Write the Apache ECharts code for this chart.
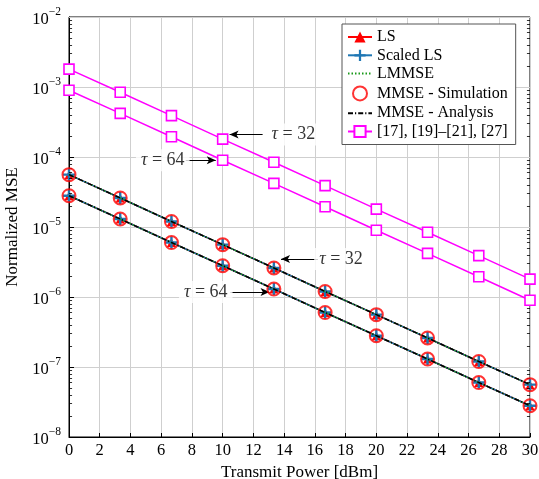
<!DOCTYPE html>
<html>
<head>
<meta charset="utf-8">
<script src="https://cdn.jsdelivr.net/npm/echarts@6/dist/echarts.min.js"></script>
<style>
  html, body { margin: 0; padding: 0; background: #fff; }
  #chart { width: 539px; height: 479px; }
</style>
</head>
<body>
<div id="chart"></div>
<script>
// Transmit power sample points [dBm]
const power = [0, 3.333, 6.667, 10, 13.333, 16.667, 20, 23.333, 26.667, 30];

// Normalized MSE, proposed estimators (all estimators coincide)
const mseTau32 = [5.6e-5, 2.6e-5, 1.2e-5, 5.6e-6, 2.6e-6, 1.2e-6, 5.6e-7, 2.6e-7, 1.2e-7, 5.6e-8];
const mseTau64 = [2.8e-5, 1.3e-5, 6.0e-6, 2.8e-6, 1.3e-6, 6.0e-7, 2.8e-7, 1.3e-7, 6.0e-8, 2.8e-8];

// Normalized MSE, reference schemes [17], [19]–[21], [27]
const refTau32 = [1.8e-3, 8.4e-4, 3.9e-4, 1.8e-4, 8.4e-5, 3.9e-5, 1.8e-5, 8.4e-6, 3.9e-6, 1.8e-6];
const refTau64 = [9.0e-4, 4.2e-4, 1.95e-4, 9.0e-5, 4.2e-5, 1.95e-5, 9.0e-6, 4.2e-6, 1.95e-6, 9.0e-7];

const xTicks = [0, 2, 4, 6, 8, 10, 12, 14, 16, 18, 20, 22, 24, 26, 28, 30];
const yDecades = [1e-8, 1e-7, 1e-6, 1e-5, 1e-4, 1e-3, 1e-2];

const legendNames = ['LS', 'Scaled LS', 'LMMSE', 'MMSE - Simulation', 'MMSE - Analysis', '[17], [19]–[21], [27]'];

// Annotation callouts: text, text anchor, arrow tail, arrow head
const callouts = [
  { tau: 32, text: [14.6, 2.1e-4], from: [12.6, 2.1e-4], to: [10.45, 2.1e-4] },
  { tau: 64, text: [6.1, 9.0e-5], from: [7.6, 9.0e-5], to: [9.55, 9.0e-5] },
  { tau: 32, text: [17.7, 3.5e-6], from: [16.2, 3.5e-6], to: [13.8, 3.5e-6] },
  { tau: 64, text: [8.9, 1.18e-6], from: [10.5, 1.18e-6], to: [13.05, 1.18e-6] }
];

const FONT = 'Liberation Serif';
const pair = (ys) => power.map((x, i) => [x, ys[i]]);

// minor gridlines and minor ticks at 2..9 × 10^k
const minorVals = [];
for (let k = 0; k < yDecades.length - 1; k++) {
  for (let m = 2; m <= 9; m++) minorVals.push(m * yDecades[k]);
}
const gridLines = minorVals.map(v => ({ yAxis: v }));
const minorTicks = [];
minorVals.forEach(v => {
  minorTicks.push([{ coord: [0, v] }, { coord: [0.2, v] }]);
  minorTicks.push([{ coord: [29.8, v] }, { coord: [30, v] }]);
});

const plusPath = 'path://M-1,-0.2L-0.2,-0.2L-0.2,-1L0.2,-1L0.2,-0.2L1,-0.2L1,0.2L0.2,0.2L0.2,1L-0.2,1L-0.2,0.2L-1,0.2Z';

const series = [];
// background helper: minor grid and minor ticks
series.push({
  name: 'grid-helper', type: 'line', data: [], silent: true, z: 1,
  markLine: {
    silent: true, symbol: 'none', animation: false,
    label: { show: false },
    lineStyle: { color: '#cfcfcf', width: 1, type: 'solid' },
    data: gridLines
  }
});
series.push({
  name: 'tick-helper', type: 'line', data: [], silent: true, z: 5,
  markLine: {
    silent: true, symbol: 'none', animation: false,
    label: { show: false },
    lineStyle: { color: '#000', width: 0.8, type: 'solid' },
    data: minorTicks
  }
});

[mseTau32, mseTau64].forEach(ys => {
  series.push({
    name: 'LS', type: 'line', data: pair(ys), symbol: 'triangle', symbolSize: 9,
    itemStyle: { color: '#ff0000' }, lineStyle: { color: '#ff0000', width: 1.5 }, z: 3
  });
  series.push({
    name: 'Scaled LS', type: 'line', data: pair(ys), symbol: plusPath, symbolSize: 12,
    itemStyle: { color: '#1f77b4' }, lineStyle: { color: '#1f77b4', width: 1.5 }, z: 4
  });
  series.push({
    name: 'LMMSE', type: 'line', data: pair(ys), symbol: 'none',
    lineStyle: { color: '#1a9a1a', width: 1.5, type: [1.5, 2] }, itemStyle: { color: '#1a9a1a' }, z: 5
  });
  series.push({
    name: 'MMSE - Simulation', type: 'scatter', data: pair(ys), symbol: 'circle', symbolSize: 13,
    itemStyle: { color: 'none', borderColor: '#ff0000', borderWidth: 2 }, z: 6
  });
  series.push({
    name: 'MMSE - Analysis', type: 'line', data: pair(ys), symbol: 'none',
    lineStyle: { color: '#000', width: 1.5, type: [5, 2, 1.2, 2] }, itemStyle: { color: '#000' }, z: 7
  });
});

[refTau32, refTau64].forEach(ys => {
  series.push({
    name: '[17], [19]–[21], [27]', type: 'line', data: pair(ys), symbol: 'rect', symbolSize: 10,
    showAllSymbol: true,
    itemStyle: { color: '#fff', borderColor: '#ff00ff', borderWidth: 1.6 },
    lineStyle: { color: '#ff00ff', width: 1.5 }, z: 6
  });
});

// callout arrows
series.push({
  name: 'callout-arrows', type: 'line', data: [], silent: true, z: 8,
  markLine: {
    silent: true, animation: false, symbol: ['none', 'arrow'], symbolSize: [6, 9],
    label: { show: false },
    lineStyle: { color: '#000', width: 1, type: 'solid' },
    data: callouts.map(c => [{ coord: c.from }, { coord: c.to }])
  }
});
// callout text
series.push({
  name: 'callout-text', type: 'scatter', silent: true, z: 9, symbolSize: 0,
  data: callouts.map(c => ({ value: c.text, tau: c.tau })),
  label: {
    show: true, position: 'inside', backgroundColor: '#fff', padding: [2, 5],
    formatter: p => '{i|τ} = ' + p.data.tau,
    fontFamily: FONT, fontSize: 18, color: '#000',
    rich: { i: { fontFamily: FONT, fontStyle: 'italic', fontSize: 18, color: '#000' } }
  }
});

const legendData = legendNames.map(n => {
  if (n === 'LMMSE' || n === 'MMSE - Analysis') return { name: n, itemStyle: { opacity: 0 } };
  return { name: n };
});

const chart = echarts.init(document.getElementById('chart'), null, { renderer: 'canvas' });
chart.setOption({
  animation: false,
  backgroundColor: '#fff',
  textStyle: { fontFamily: FONT },
  grid: {
    left: 69, right: 9, top: 17, bottom: 42,
    containLabel: false, outerBoundsMode: 'none',
    show: true, borderColor: '#000', borderWidth: 1, backgroundColor: 'rgba(0,0,0,0)'
  },
  legend: {
    data: legendData,
    orient: 'vertical', left: 342, top: 24,
    backgroundColor: '#fff', borderColor: '#555', borderWidth: 1,
    padding: [5, 8, 5, 5], itemGap: 2.3, itemWidth: 24, itemHeight: 14,
    textStyle: { fontFamily: FONT, fontSize: 16, color: '#000' },
    selectedMode: false
  },
  xAxis: {
    type: 'value', min: 0, max: 30, interval: 2,
    name: 'Transmit Power [dBm]', nameLocation: 'middle', nameGap: 21,
    nameTextStyle: { fontFamily: FONT, fontSize: 17, color: '#000' },
    axisLine: { lineStyle: { color: '#000', width: 1 } },
    axisTick: { inside: true, length: 4, lineStyle: { color: '#000' } },
    axisLabel: { fontFamily: FONT, fontSize: 16.5, color: '#000', margin: 5,
      formatter: v => xTicks.includes(v) ? String(v) : '' },
    splitLine: { show: true, lineStyle: { color: '#cfcfcf', width: 1 } }
  },
  yAxis: {
    type: 'log', logBase: 10, min: 1e-8, max: 1e-2,
    name: 'Normalized MSE', nameLocation: 'middle', nameGap: 43,
    nameTextStyle: { fontFamily: FONT, fontSize: 17, color: '#000' },
    axisLine: { lineStyle: { color: '#000', width: 1 } },
    axisTick: { inside: true, length: 5, lineStyle: { color: '#000' } },
    minorTick: { show: false },
    axisLabel: {
      fontFamily: FONT, fontSize: 16.5, color: '#000', margin: 8,
      formatter: v => '{b|10}{e|−' + Math.round(-Math.log10(v)) + '}',
      rich: {
        b: { fontFamily: FONT, fontSize: 16.5, color: '#000', lineHeight: 22, verticalAlign: 'bottom' },
        e: { fontFamily: FONT, fontSize: 11.5, color: '#000', lineHeight: 22, verticalAlign: 'top' }
      }
    },
    splitLine: { show: true, lineStyle: { color: '#cfcfcf', width: 1 } }
  },
  series: series
});
</script>
</body>
</html>
